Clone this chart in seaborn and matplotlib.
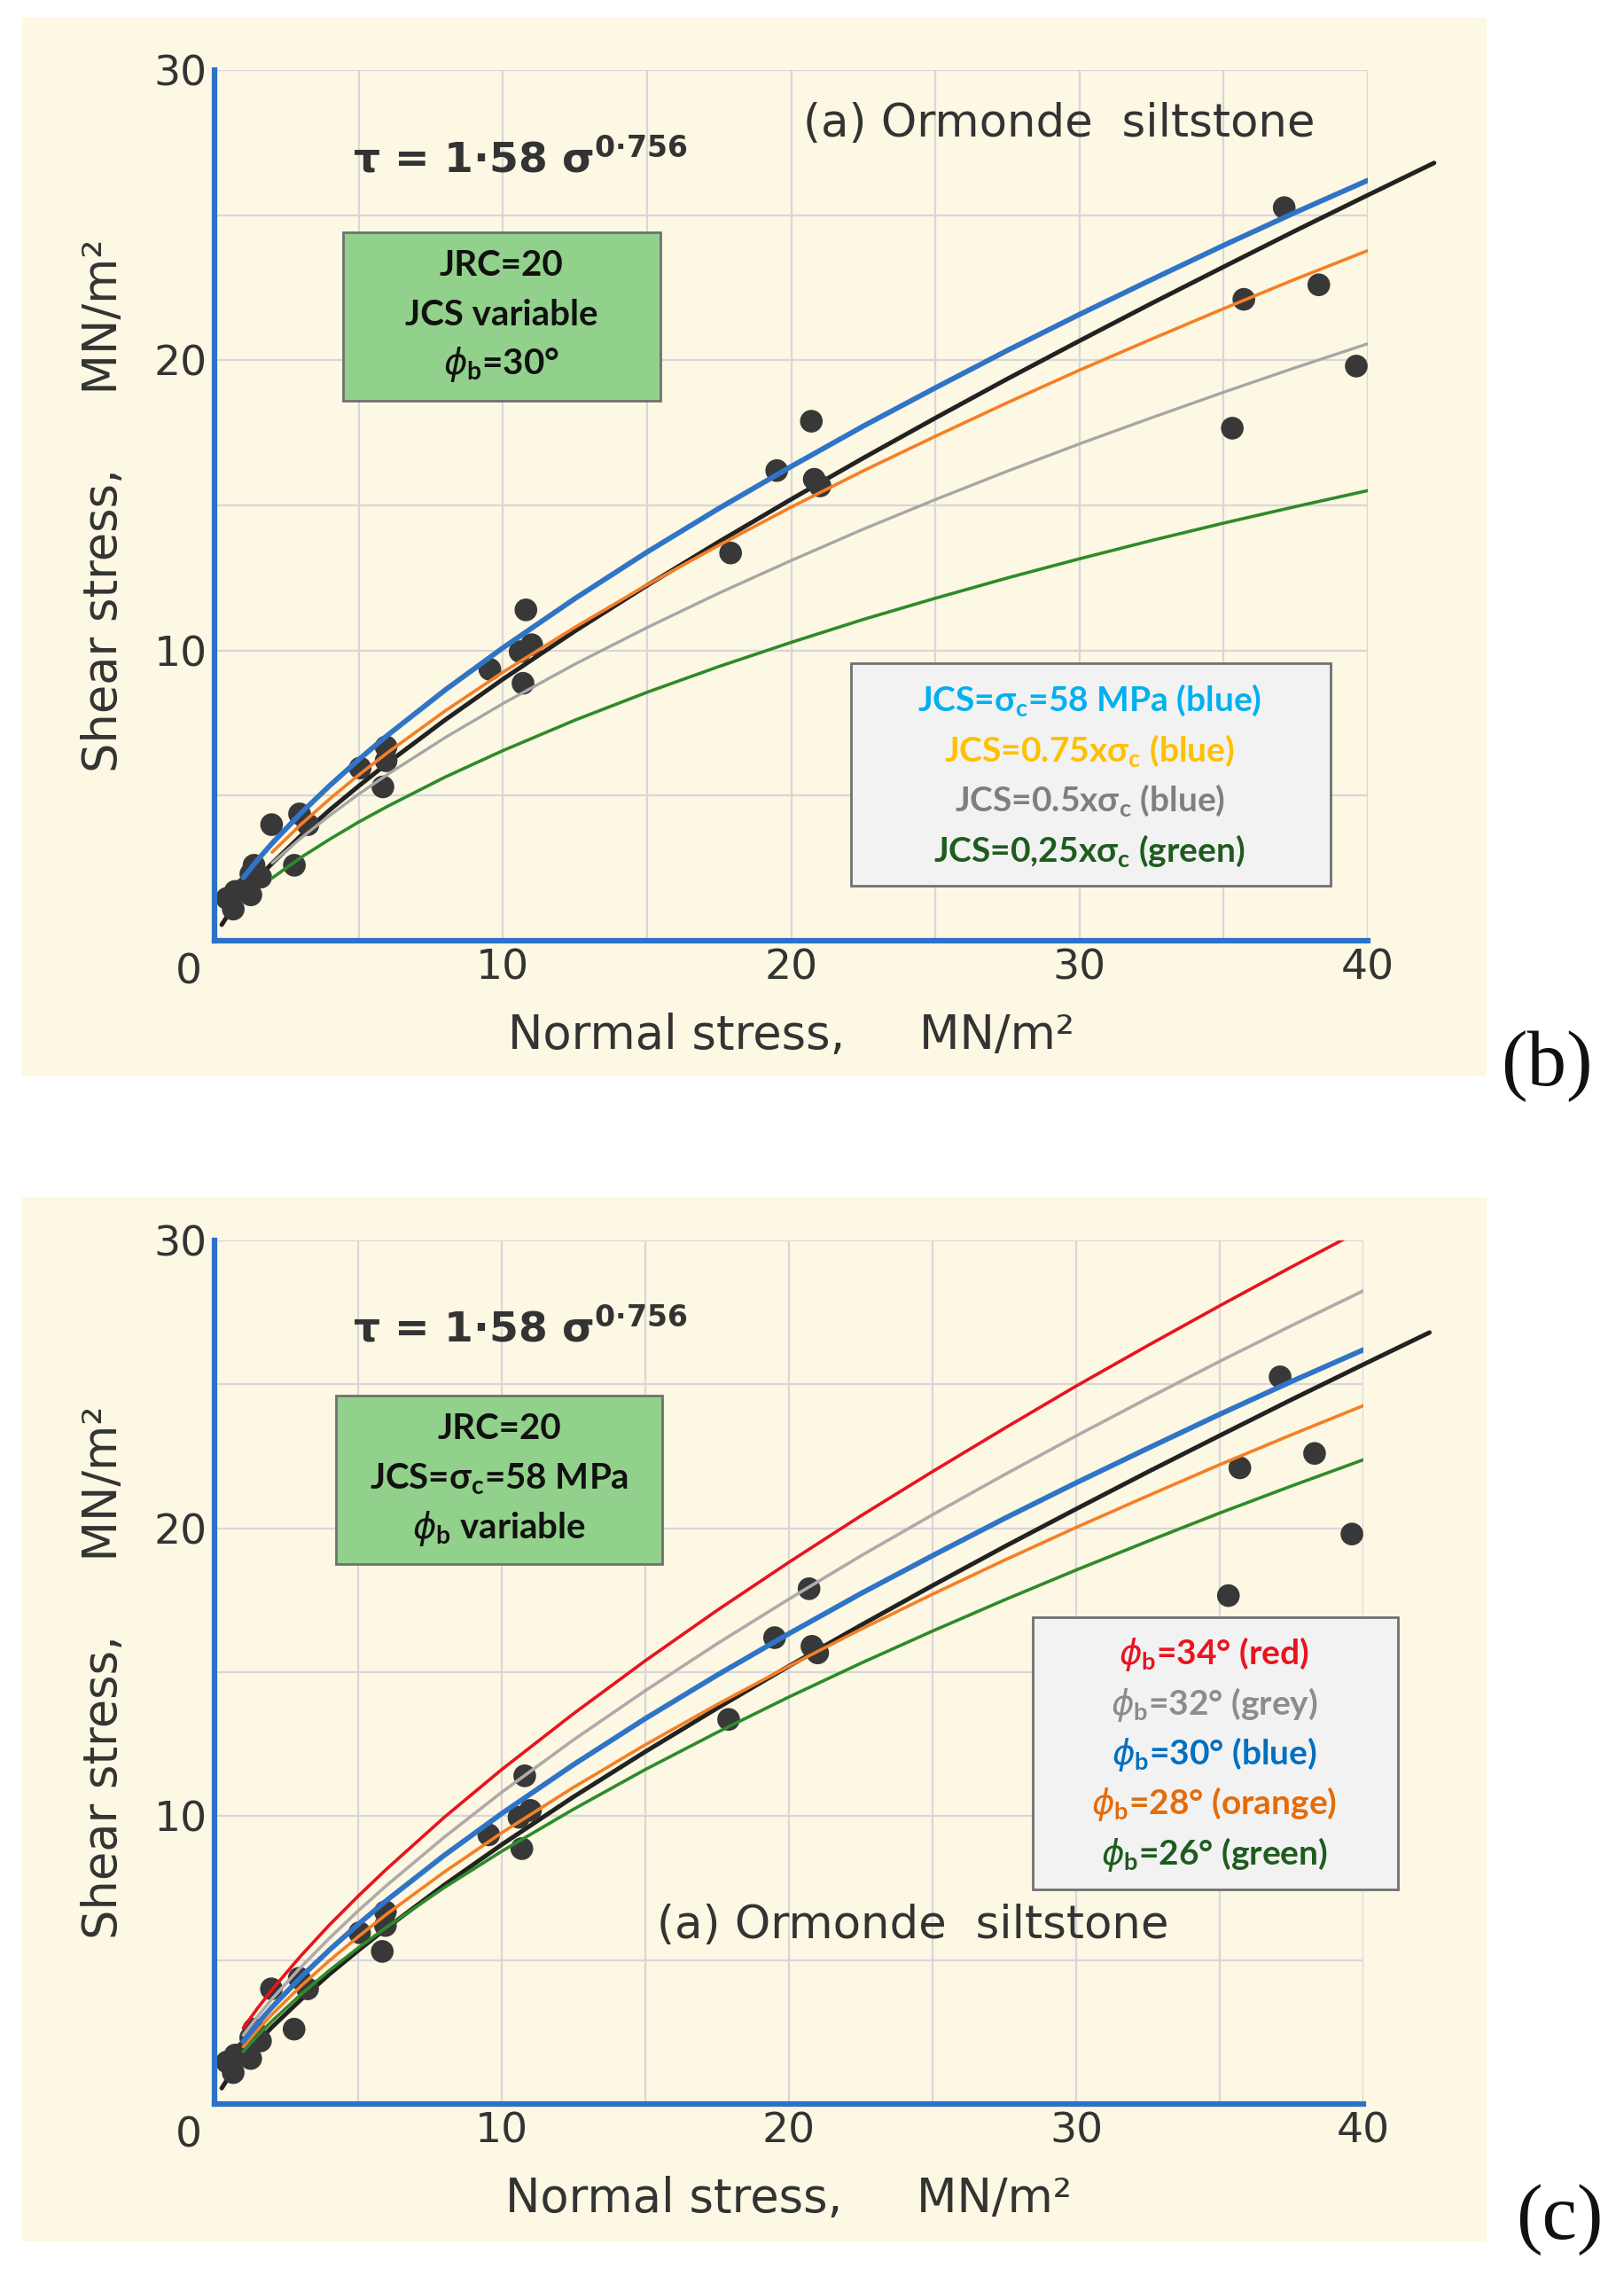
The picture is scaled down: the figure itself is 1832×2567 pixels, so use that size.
import numpy as np
import pandas as pd
import seaborn as sns
import matplotlib.pyplot as plt
from matplotlib.patches import Rectangle

# measured points (normal stress, shear stress), MN/m2
sigma_pts = [0.65, 0.43, 0.72, 1.08, 1.26, 1.37, 1.6, 1.26, 1.98, 2.95, 2.77, 3.24,
             5.05, 5.95, 5.95, 5.84, 9.55, 10.8, 10.6, 11.0, 10.7,
             17.9, 19.5, 20.7, 20.8, 21.0, 35.3, 35.7, 37.1, 38.3, 39.6]
tau_pts = [1.09, 1.46, 1.7, 1.82, 2.3, 2.6, 2.19, 1.58, 4.0, 4.37, 2.6, 4.0,
           5.95, 6.68, 6.2, 5.3, 9.35, 11.4, 9.96, 10.2, 8.87,
           13.36, 16.2, 17.9, 15.9, 15.67, 17.66, 22.1, 25.26, 22.6, 19.8]

# black fitted curve  tau = 1.58 sigma^0.756
x_fit = [0.25, 0.5, 1, 1.5, 2, 3, 4, 5, 6, 8, 10, 12.5, 15, 17.5, 20, 22.5, 25, 27.5,
         30, 32.5, 35, 37.5, 40, 42.3]
y_fit = [0.55, 0.94, 1.58, 2.15, 2.67, 3.62, 4.51, 5.33, 6.12, 7.61, 9.01, 10.67,
         12.24, 13.75, 15.21, 16.63, 18.01, 19.36, 20.67, 21.96, 23.22, 24.47, 25.69, 26.8]

x_full = [1, 1.5, 2, 3, 4, 5, 6, 8, 10, 12.5, 15, 17.5, 20, 22.5, 25, 27.5, 30, 32.5,
          35, 37.5, 40]
x_part = [2, 3, 4, 5, 6, 8, 10, 12.5, 15, 17.5, 20, 22.5, 25, 27.5, 30, 32.5, 35, 37.5, 40]

# panel (b): JCS variable
b_blue = [2.17, 2.79, 3.36, 4.40, 5.35, 6.24, 7.08, 8.64, 10.09, 11.79, 13.39, 14.90,
          16.34, 17.73, 19.05, 20.34, 21.58, 22.78, 23.96, 25.10, 26.20]
b_orange = [3.05, 4.01, 4.89, 5.71, 6.48, 7.92, 9.25, 10.80, 12.26, 13.63, 14.94,
            16.19, 17.38, 18.54, 19.66, 20.73, 21.78, 22.80, 23.78]
b_grey = [2.68, 3.54, 4.32, 5.05, 5.73, 7.00, 8.17, 9.53, 10.79, 11.98, 13.10,
          14.18, 15.20, 16.18, 17.12, 18.02, 18.90, 19.75, 20.57]
b_green = [2.16, 2.87, 3.50, 4.09, 4.63, 5.64, 6.55, 7.60, 8.56, 9.45, 10.28,
           11.07, 11.80, 12.50, 13.16, 13.79, 14.39, 14.96, 15.51]

# panel (c): phi_b variable
c_red = [2.64, 3.33, 3.97, 5.14, 6.22, 7.22, 8.17, 9.96, 11.62, 13.56, 15.40, 17.15,
         18.82, 20.43, 21.97, 23.47, 24.94, 26.35, 27.73, 29.08, 30.40]
c_grey = [2.39, 3.04, 3.65, 4.75, 5.76, 6.71, 7.60, 9.27, 10.83, 12.65, 14.36, 15.99,
          17.54, 19.04, 20.47, 21.86, 23.21, 24.52, 25.80, 27.04, 28.25]
c_blue = b_blue
c_orange = [1.99, 2.57, 3.11, 4.09, 4.98, 5.81, 6.60, 8.06, 9.42, 11.00, 12.48, 13.88,
            15.21, 16.49, 17.71, 18.89, 20.03, 21.13, 22.21, 23.25, 24.26]
c_green = [1.82, 2.38, 2.88, 3.80, 4.64, 5.42, 6.15, 7.52, 8.78, 10.24, 11.62, 12.91,
           14.14, 15.31, 16.43, 17.51, 18.55, 19.55, 20.53, 21.47, 22.38]

legend_b = [r"JCS=σ$_\mathregular{c}$=58 MPa (blue)", r"JCS=0.75xσ$_\mathregular{c}$ (blue)",
            r"JCS=0.5xσ$_\mathregular{c}$ (blue)", r"JCS=0,25xσ$_\mathregular{c}$ (green)"]
legend_b_col = ["#00B0F0", "#FFC000", "#7F7F7F", "#1E5C1E"]
legend_c = [r"$\phi_\mathregular{b}$=34° (red)", r"$\phi_\mathregular{b}$=32° (grey)",
            r"$\phi_\mathregular{b}$=30° (blue)", r"$\phi_\mathregular{b}$=28° (orange)",
            r"$\phi_\mathregular{b}$=26° (green)"]
legend_c_col = ["#E8141E", "#8C8C8C", "#0070C0", "#E46C0A", "#1E5C1E"]

sns.set_style("white")
plt.rcParams['font.family'] = ['DejaVu Sans']
BOXFONT = ['Liberation Sans Narrow', 'Lato', 'DejaVu Sans']
BEIGE = '#FCF8E3'
AXBLUE = '#2B72C8'
TXT = '#333333'

fig = plt.figure(figsize=(18.33, 25.67), dpi=100)
W, H = 1833, 2567
for y0, y1 in [(20, 1214), (1350, 2528)]:
    fig.patches.append(Rectangle((25 / W, 1 - y1 / H), 1652 / W, (y1 - y0) / H,
                                 transform=fig.transFigure, facecolor=BEIGE,
                                 edgecolor='none', zorder=-10))

ax_b = fig.add_axes([242 / W, 1 - 1061 / H, 1301 / W, 982 / H])
ax_c = fig.add_axes([242 / W, 1 - 2373 / H, 1296 / W, 974 / H])


def base(ax):
    ax.set_zorder(1)
    ax.set_facecolor('none')
    ax.set_xlim(0, 40)
    ax.set_ylim(0, 30)
    ax.set_xticks([10, 20, 30, 40])
    ax.set_yticks([10, 20, 30])
    ax.set_xticks(np.arange(0, 45, 5), minor=True)
    ax.set_yticks(np.arange(0, 35, 5), minor=True)
    ax.grid(True, which='both', color='#DAD5DA', lw=1.6, zorder=0)
    ax.tick_params(which='minor', length=0)
    ax.tick_params(which='major', direction='in', length=22, width=2.2,
                   color=TXT, labelsize=34, labelcolor=TXT, pad=6)
    for s in ['top', 'right']:
        ax.spines[s].set_visible(False)
    for s in ['left', 'bottom']:
        ax.spines[s].set_color(AXBLUE)
        ax.spines[s].set_linewidth(4.5)
        ax.spines[s].set_zorder(6)
    ax.annotate("0", xy=(0, 0), xycoords='data', xytext=(-21, -26),
                textcoords='offset points', ha='center', va='center',
                fontsize=34, color=TXT, annotation_clip=False)
    sns.lineplot(x=x_fit, y=y_fit, ax=ax, color='#222222', lw=3.6, zorder=2)
    ax.lines[-1].set_clip_on(False)
    df = pd.DataFrame({'sigma': sigma_pts, 'tau': tau_pts})
    sns.scatterplot(data=df, x='sigma', y='tau', ax=ax, color='#383838', s=340,
                    edgecolor='none', zorder=3)
    ax.set_xlabel("Normal stress,     MN/m²", fontsize=38, color=TXT, labelpad=20)
    ax.set_ylabel("Shear stress,     MN/m²", fontsize=38, color=TXT, labelpad=22)
    ax.text(4.8, 26.9, r"τ = 1·58 σ$^{\mathregular{0·756}}$", fontsize=34,
            color=TXT, ha='left', va='center', fontweight='bold')


def textbox(ax, x0, x1, y0, y1, lines, colors, ys, xc, face, size):
    ax.add_patch(Rectangle((x0, y0), x1 - x0, y1 - y0, facecolor=face,
                           edgecolor='#707070', lw=2, zorder=7, clip_on=False))
    for t, c, y in zip(lines, colors, ys):
        ax.text(xc, y, t, color=c, fontsize=size, fontweight='bold', family=BOXFONT,
                ha='center', va='center', zorder=8)


# ---- panel (b)
base(ax_b)
sns.lineplot(x=x_part, y=b_green, ax=ax_b, color='#2E8B2A', lw=2.6, zorder=4)
sns.lineplot(x=x_part, y=b_grey, ax=ax_b, color='#A6A6A6', lw=2.4, zorder=4)
sns.lineplot(x=x_part, y=b_orange, ax=ax_b, color='#F57F26', lw=2.6, zorder=4)
sns.lineplot(x=x_full, y=b_blue, ax=ax_b, color='#2F74C6', lw=4.2, zorder=5)
ax_b.text(29.3, 28.15, "(a) Ormonde  siltstone", fontsize=37, color=TXT,
          ha='center', va='center')
textbox(ax_b, 4.47, 15.48, 18.6, 24.4, ["JRC=20", "JCS variable", r"$\phi_\mathregular{b}$=30°"],
        ['#111111'] * 3, [23.25, 21.55, 19.85], 9.95, '#92D18B', 29)
textbox(ax_b, 22.06, 38.7, 1.9, 9.55, legend_b, legend_b_col,
        [8.3, 6.55, 4.85, 3.1], 30.35, '#F2F2F2', 28)

# ---- panel (c)
base(ax_c)
sns.lineplot(x=x_full, y=c_green, ax=ax_c, color='#2E8B2A', lw=2.6, zorder=4)
sns.lineplot(x=x_full, y=c_orange, ax=ax_c, color='#F57F26', lw=2.6, zorder=4)
sns.lineplot(x=x_full, y=c_blue, ax=ax_c, color='#2F74C6', lw=4.2, zorder=4)
sns.lineplot(x=x_full, y=c_grey, ax=ax_c, color='#B0AAAA', lw=2.6, zorder=4)
sns.lineplot(x=x_full, y=c_red, ax=ax_c, color='#E8141E', lw=2.6, zorder=4)
ax_c.text(24.3, 6.2, "(a) Ormonde  siltstone", fontsize=37, color=TXT,
          ha='center', va='center', zorder=6)
textbox(ax_c, 4.24, 15.6, 18.76, 24.6,
        ["JRC=20", r"JCS=σ$_\mathregular{c}$=58 MPa", r"$\phi_\mathregular{b}$ variable"],
        ['#111111'] * 3, [23.45, 21.7, 20.0], 9.92, '#92D18B', 29)
textbox(ax_c, 28.48, 41.2, 7.46, 16.9, legend_c, legend_c_col,
        [15.63, 13.87, 12.15, 10.44, 8.67], 34.8, '#F2F2F2', 28)

for ax in (ax_b, ax_c):
    leg = ax.get_legend()
    if leg is not None:
        leg.remove()

fig.text(1745 / W, 1 - 1203 / H, "(b)", fontsize=64, family=['Liberation Serif', 'DejaVu Serif'],
         ha='center', va='center', color='#111111')
fig.text(1759 / W, 1 - 2504 / H, "(c)", fontsize=64, family=['Liberation Serif', 'DejaVu Serif'],
         ha='center', va='center', color='#111111')

fig.savefig("out.png", dpi=100, facecolor='white')
